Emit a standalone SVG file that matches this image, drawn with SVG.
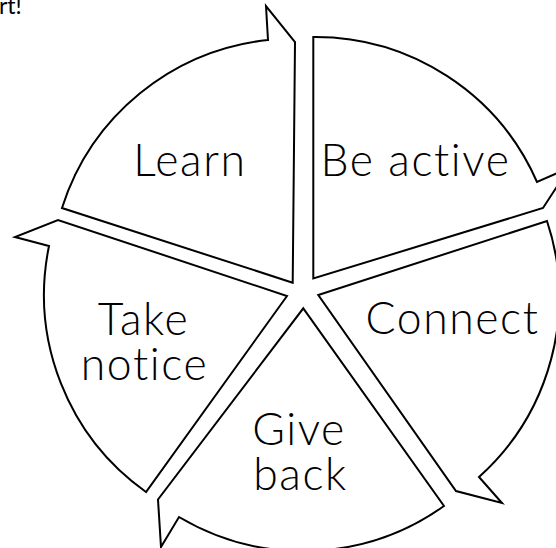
<svg xmlns="http://www.w3.org/2000/svg" width="556" height="548" viewBox="0 0 556 548">
<style>
.seg{fill:#fff;stroke:#000;stroke-width:2;stroke-linejoin:miter}
.lbl{font-family:Lato,"Open Sans","Liberation Sans",sans-serif;font-weight:300;font-size:44.5px;letter-spacing:1.6px;fill:#000;text-anchor:middle}
.note{font-family:Lato,"Open Sans","Liberation Sans",sans-serif;font-size:23px;fill:#000}
</style>
<rect width="556" height="548" fill="#fff"/>
<text class="note" x="-1" y="14">rt!</text>
<g id="learn">
<path class="seg" d="M292.7 282.7 L62 208 A243 243 0 0 1 268 40 L266 6 L295 42 Z"/>
<text class="lbl" x="190" y="176">Learn</text>
</g>
<g id="be-active">
<path class="seg" d="M313.3 278.5 L313.3 37 A242 242 0 0 1 537 182 L569 168 L543 208 Z"/>
<text class="lbl" x="415.5" y="176">Be active</text>
</g>
<g id="connect">
<path class="seg" d="M318.3 295 L547 221 A242 242 0 0 1 479 477 L502 503 L456 491 Z"/>
<text class="lbl" x="452.5" y="334">Connect</text>
</g>
<g id="give-back">
<path class="seg" d="M303.3 308.3 L444 506 A243 243 0 0 1 179 517 L161 547 L158 499.5 Z"/>
<text class="lbl" x="299" y="445">Give</text>
<text class="lbl" x="300.5" y="490">back</text>
</g>
<g id="take-notice">
<path class="seg" d="M287 296 L146 492 A242 242 0 0 1 49 246 L15 237 L58 220 Z"/>
<text class="lbl" x="143.5" y="335">Take</text>
<text class="lbl" x="144.5" y="380">notice</text>
</g>
<g id="connectors"></g>
</svg>
